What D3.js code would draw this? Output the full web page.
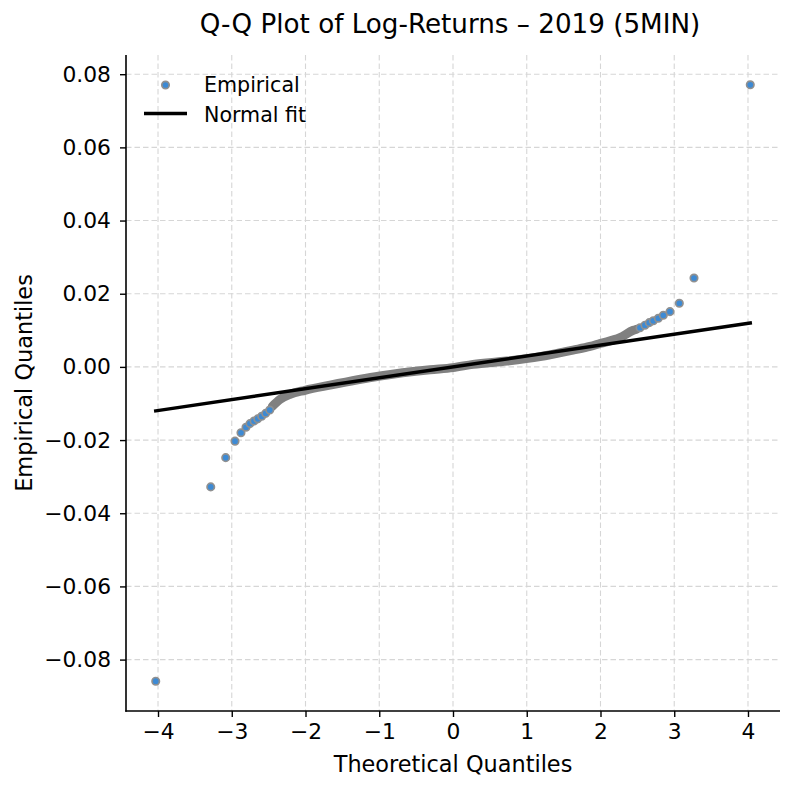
<!DOCTYPE html>
<html><head><meta charset="utf-8">
<script src="https://cdn.jsdelivr.net/npm/d3@7"></script>
<style>body{margin:0;background:#fff}svg{display:block}text{font-family:"DejaVu Sans",sans-serif;fill:#000}</style>
</head><body>
<svg id="chart" width="794" height="790"></svg>
<script>
// ---- data ----
const title = "Q-Q Plot of Log-Returns – 2019 (5MIN)";
const xLabel = "Theoretical Quantiles";
const yLabel = "Empirical Quantiles";
const legendLabels = ["Empirical", "Normal fit"];
const xTicks = [-4, -3, -2, -1, 0, 1, 2, 3, 4];
const yTicks = [-0.08, -0.06, -0.04, -0.02, 0.00, 0.02, 0.04, 0.06, 0.08];

// sparse lower-tail points
const tailLeftTheo   = [-4.031, -3.285, -3.082, -2.956, -2.875, -2.807, -2.753, -2.698, -2.648, -2.594, -2.540, -2.485];
const tailLeftSample = [-0.0859, -0.0328, -0.0248, -0.0203, -0.0180, -0.0165, -0.0155, -0.0148, -0.0142, -0.0135, -0.0127, -0.0118];
// dense central band of overlapping points
const bandTheo   = [-2.45, -2.346, -2.21, -2.007, -1.668, -0.990, -0.312, 0.0, 0.271, 0.732, 1.180, 1.627, 1.858, 1.993, 2.264, 2.445, 2.49];
const bandSample = [-0.0108, -0.0089, -0.0075, -0.0064, -0.0050, -0.0025, -0.0008, -0.0002, 0.0007, 0.0016, 0.0028, 0.0046, 0.0056, 0.0064, 0.0080, 0.0100, 0.0103];
// sparse upper-tail points
const tailRightTheo   = [2.536, 2.603, 2.662, 2.716, 2.784, 2.852, 2.942, 3.069, 3.268, 4.031];
const tailRightSample = [0.0107, 0.0114, 0.0121, 0.0126, 0.0133, 0.0141, 0.0151, 0.0174, 0.0243, 0.0771];
// normal fit: y = mu + sigma * x
const fitMu = 0.0;
const fitSigma = 0.00298;

// ---- layout ----
const svg = d3.select("#chart");
const L = 126, R = 780, T = 55, B = 711;

const allX = tailLeftTheo.concat(bandTheo, tailRightTheo);
const allY = tailLeftSample.concat(bandSample, tailRightSample);
function pad(ext){ const s = ext[1]-ext[0]; return [ext[0]-0.05*s, ext[1]+0.05*s]; }
const x = d3.scaleLinear().domain(pad(d3.extent(allX))).range([L, R]);
const y = d3.scaleLinear().domain(pad(d3.extent(allY))).range([B, T]);

// grid
const grid = svg.append("g").attr("stroke", "#d6d6d6").attr("stroke-width", 1.1).attr("stroke-dasharray", "5.5,3");
grid.selectAll("line.gx").data(xTicks).enter().append("line")
  .attr("x1", d => x(d)).attr("x2", d => x(d)).attr("y1", T).attr("y2", B);
grid.selectAll("line.gy").data(yTicks).enter().append("line")
  .attr("y1", d => y(d)).attr("y2", d => y(d)).attr("x1", L).attr("x2", R);

// dense band (overlapping markers appear as a continuous gray band)
const bandPts = bandTheo.map((t, i) => [t, bandSample[i]]);
svg.append("path").datum(bandPts)
  .attr("d", d3.line().x(d => x(d[0])).y(d => y(d[1])).curve(d3.curveMonotoneX))
  .attr("fill", "none").attr("stroke", "#808080").attr("stroke-width", 9)
  .attr("stroke-linecap", "round").attr("stroke-linejoin", "round");

// sparse points
const tailPts = tailLeftTheo.map((t, i) => [t, tailLeftSample[i]])
  .concat(tailRightTheo.map((t, i) => [t, tailRightSample[i]]));
const mFill = "#3d8ad4", mStroke = "#909090";
svg.append("g").selectAll("circle").data(tailPts).enter().append("circle")
  .attr("cx", d => x(d[0])).attr("cy", d => y(d[1])).attr("r", 3.7)
  .attr("fill", mFill).attr("stroke", mStroke).attr("stroke-width", 1.7);

// normal fit line
const fitX = d3.extent(allX);
svg.append("line")
  .attr("x1", x(fitX[0])).attr("y1", y(fitMu + fitSigma * fitX[0]))
  .attr("x2", x(fitX[1])).attr("y2", y(fitMu + fitSigma * fitX[1]))
  .attr("stroke", "#000").attr("stroke-width", 3.4).attr("stroke-linecap", "square");

// axes
const fmtY = d => d3.format(".2f")(d).replace("-", "\u2212");
const fmtX = d => String(d).replace("-", "\u2212");
const xAxis = svg.append("g").attr("transform", `translate(0,${B})`)
  .call(d3.axisBottom(x).tickValues(xTicks).tickFormat(fmtX).tickSize(6).tickPadding(7));
const yAxis = svg.append("g").attr("transform", `translate(${L},0)`)
  .call(d3.axisLeft(y).tickValues(yTicks).tickFormat(fmtY).tickSize(6).tickPadding(9));
[xAxis, yAxis].forEach(a => {
  a.select(".domain").remove();
  a.selectAll(".tick line").attr("stroke", "#000").attr("stroke-width", 1.4);
  a.selectAll(".tick text").attr("font-size", 21.8).attr("font-family", "DejaVu Sans").attr("fill", "#000");
});
xAxis.selectAll(".tick text").attr("dy", "0.71em");
// spines (left, bottom)
svg.append("line").attr("x1", L).attr("x2", L).attr("y1", T).attr("y2", B + 0.7).attr("stroke", "#000").attr("stroke-width", 1.6);
svg.append("line").attr("x1", L - 0.7).attr("x2", R).attr("y1", B).attr("y2", B).attr("stroke", "#000").attr("stroke-width", 1.6);

// labels
svg.append("text").attr("x", (L + R) / 2 - 3).attr("y", 33).attr("text-anchor", "middle")
  .attr("font-size", 26.2).text(title);
svg.append("text").attr("x", (L + R) / 2).attr("y", 772).attr("text-anchor", "middle")
  .attr("font-size", 22.4).text(xLabel);
svg.append("text").attr("transform", `translate(32,${(T + B) / 2}) rotate(-90)`).attr("text-anchor", "middle")
  .attr("font-size", 22.4).text(yLabel);

// legend
const lg = svg.append("g");
lg.append("circle").attr("cx", 165.5).attr("cy", 85).attr("r", 3.7)
  .attr("fill", mFill).attr("stroke", mStroke).attr("stroke-width", 1.7);
lg.append("line").attr("x1", 144).attr("x2", 187).attr("y1", 113.5).attr("y2", 113.5)
  .attr("stroke", "#000").attr("stroke-width", 3.4);
lg.append("text").attr("x", 204).attr("y", 92).attr("font-size", 20.6).text(legendLabels[0]);
lg.append("text").attr("x", 204).attr("y", 121.5).attr("font-size", 20.6).text(legendLabels[1]);
</script>
</body></html>
